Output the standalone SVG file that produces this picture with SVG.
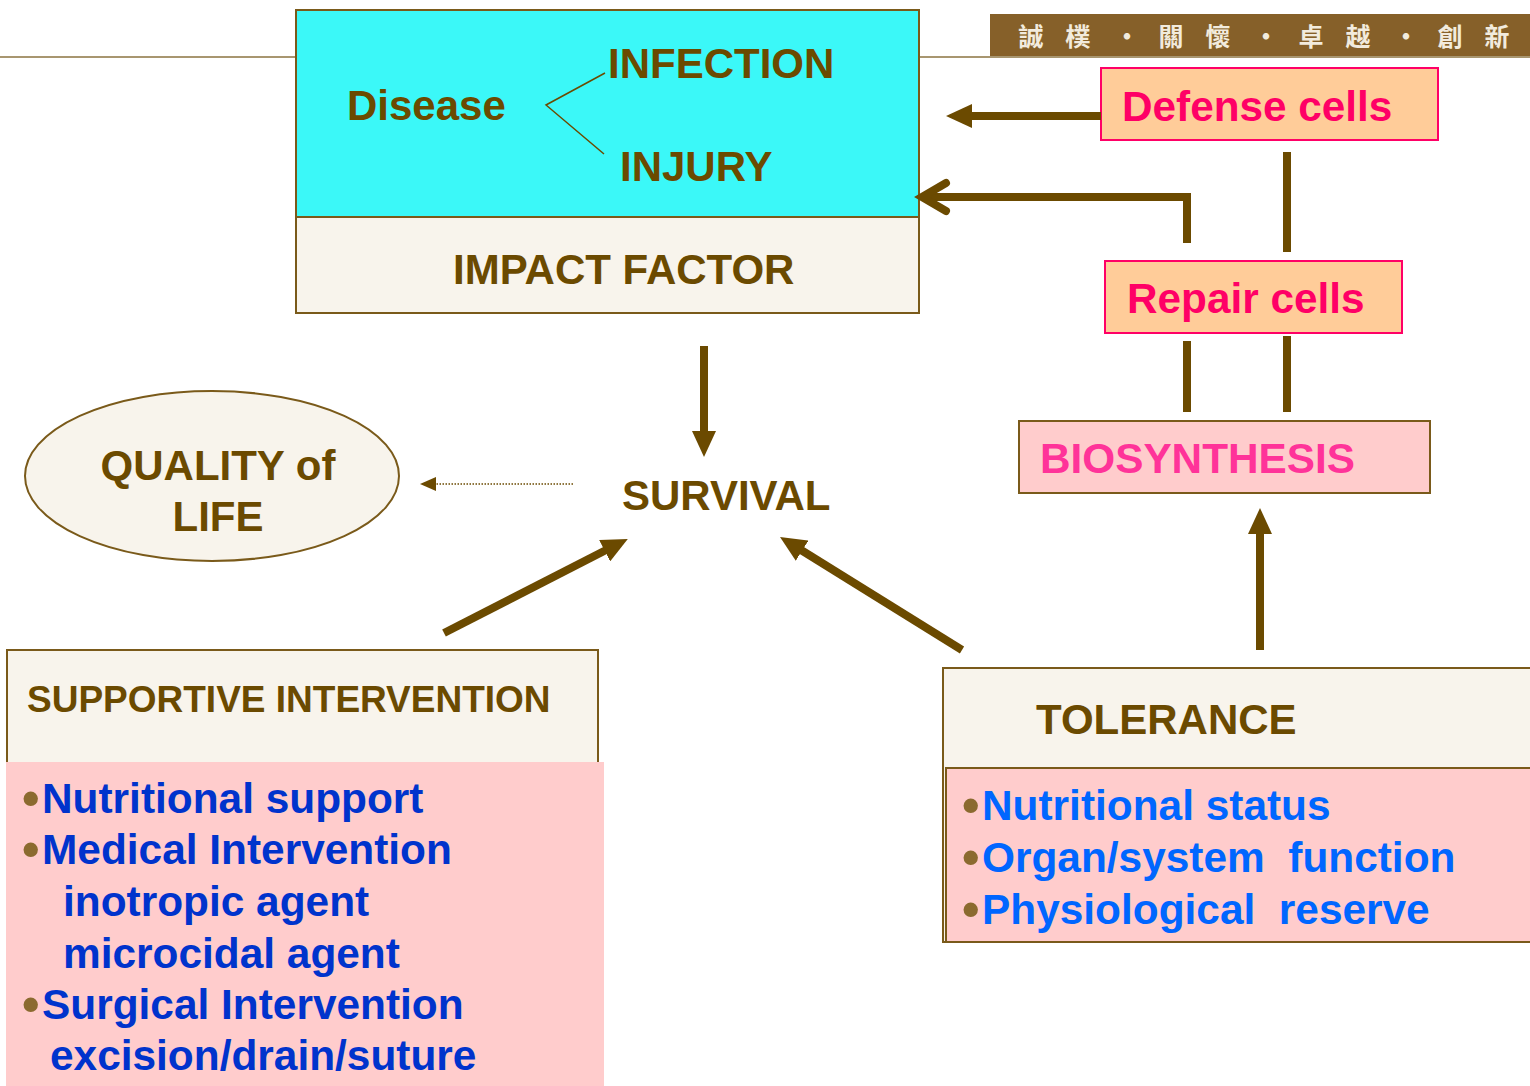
<svg xmlns="http://www.w3.org/2000/svg" width="1530" height="1086" viewBox="0 0 1530 1086">
<style>
text{font-family:"Liberation Sans",Arial,sans-serif;font-weight:bold;}
.br{fill:#6B4A00;font-size:42px;}
.sup{fill:#6B4A00;font-size:37px;}
.pk{fill:#FF0066;font-size:42.3px;}
.bio{fill:#FF3399;font-size:42.3px;}
.b1{fill:#0033CC;font-size:42.4px;}
.b2{fill:#0066FF;font-size:42.4px;}
.bul{fill:#8B6A2F;font-size:50px;}
.cjk{font-family:"Noto Sans CJK TC","Noto Sans CJK SC",sans-serif;font-weight:bold;font-size:25px;fill:#F2EBDD;}
.beige{fill:#F8F4EC;stroke:#7A5A1A;stroke-width:2;}
.cell{fill:#FFCC99;stroke:#FF0066;stroke-width:2;}
.con{stroke:#6B4A00;stroke-width:8;fill:none;}
</style>
<defs>
<marker id="ah" markerUnits="userSpaceOnUse" viewBox="0 0 26 24" refX="6" refY="12" markerWidth="26" markerHeight="24" orient="auto">
<path d="M0,0 L26,12 L0,24 z" fill="#6B4A00"/>
</marker>
<marker id="ahs" markerUnits="userSpaceOnUse" viewBox="0 0 16 14" refX="0" refY="7" markerWidth="16" markerHeight="14" orient="auto">
<path d="M0,0 L16,7 L0,14 z" fill="#6B4A00"/>
</marker>
</defs>
<rect x="0" y="0" width="1530" height="1086" fill="#FFFFFF"/>
<line x1="0" y1="57" x2="1530" y2="57" stroke="#8B7340" stroke-width="1.5"/>
<g id="banner">
<rect x="990" y="14" width="540" height="42" fill="#866029"/>
<text class="cjk" text-anchor="middle" x="1031 1078 1127 1171 1218 1266 1311 1358 1406 1450 1497" y="46">誠樸·關懷·卓越·創新</text>
</g>
<g id="impact">
<rect x="296" y="10" width="623" height="207" fill="#3BF8F8" stroke="#7A5A1A" stroke-width="2"/>
<rect class="beige" x="296" y="217" width="623" height="96"/>
<text class="br" x="347" y="120">Disease</text>
<text class="br" x="608" y="78">INFECTION</text>
<text class="br" x="620" y="181">INJURY</text>
<path d="M605,73 L546,105 L604,154" fill="none" stroke="#6B4A00" stroke-width="1.5"/>
<text class="br" x="453" y="284">IMPACT FACTOR</text>
</g>
<g id="defense">
<rect class="cell" x="1101" y="68" width="337" height="72"/>
<text class="pk" x="1122" y="121">Defense cells</text>
</g>
<g id="repair">
<rect class="cell" x="1105" y="261" width="297" height="72"/>
<text class="pk" x="1127" y="313">Repair cells</text>
</g>
<g id="biosynthesis">
<rect x="1019" y="421" width="411" height="72" fill="#FFCCCC" stroke="#7A5A1A" stroke-width="2"/>
<text class="bio" x="1040" y="473">BIOSYNTHESIS</text>
</g>
<g id="survival">
<text class="br" x="622" y="510">SURVIVAL</text>
</g>
<g id="quality">
<ellipse cx="212" cy="476" rx="187" ry="85" class="beige"/>
<text class="br" x="218" y="480" text-anchor="middle">QUALITY of</text>
<text class="br" x="218" y="531" text-anchor="middle">LIFE</text>
</g>
<g id="supportive">
<rect class="beige" x="7" y="650" width="591" height="130"/>
<rect x="6" y="762" width="598" height="324" fill="#FFCCCC"/>
<text class="sup" x="27" y="712">SUPPORTIVE INTERVENTION</text>
<text class="bul" x="22" y="815">•</text><text class="b1" x="42" y="813">Nutritional support</text>
<text class="bul" x="22" y="866">•</text><text class="b1" x="42" y="864">Medical Intervention</text>
<text class="b1" x="63" y="916">inotropic agent</text>
<text class="b1" x="63" y="968">microcidal agent</text>
<text class="bul" x="22" y="1021">•</text><text class="b1" x="42" y="1019">Surgical Intervention</text>
<text class="b1" x="50" y="1070">excision/drain/suture</text>
</g>
<g id="tolerance">
<rect class="beige" x="943" y="668" width="600" height="274"/>
<rect x="946" y="768" width="597" height="174" fill="#FFCCCC" stroke="#7A5A1A" stroke-width="2"/>
<text class="br" x="1036" y="734">TOLERANCE</text>
<text class="bul" x="962" y="822">•</text><text class="b2" x="982" y="820">Nutritional status</text>
<text class="bul" x="962" y="874">•</text><text class="b2" x="982" y="872" xml:space="preserve">Organ/system  function</text>
<text class="bul" x="962" y="926">•</text><text class="b2" x="982" y="924" xml:space="preserve">Physiological  reserve</text>
</g>
<g id="connectors">
<line class="con" x1="1101" y1="116" x2="966" y2="116" marker-end="url(#ah)"/>
<polyline class="con" points="1187,243 1187,197 924,197"/>
<path class="con" d="M946,183 L922,197 L946,211" stroke-linecap="round"/>
<line class="con" x1="1287" y1="152" x2="1287" y2="252"/>
<line class="con" x1="1187" y1="341" x2="1187" y2="412"/>
<line class="con" x1="1287" y1="336" x2="1287" y2="412"/>
<line class="con" x1="1260" y1="650" x2="1260" y2="528" marker-end="url(#ah)"/>
<line class="con" x1="704" y1="346" x2="704" y2="437" marker-end="url(#ah)"/>
<line class="con" x1="444" y1="633" x2="610" y2="548" marker-end="url(#ah)"/>
<line class="con" x1="962" y1="650" x2="797" y2="547.5" marker-end="url(#ah)"/>
<line x1="573" y1="484" x2="436" y2="484" stroke="#6B4A00" stroke-width="1.5" stroke-dasharray="1.5 1.5" marker-end="url(#ahs)"/>
</g>
</svg>
